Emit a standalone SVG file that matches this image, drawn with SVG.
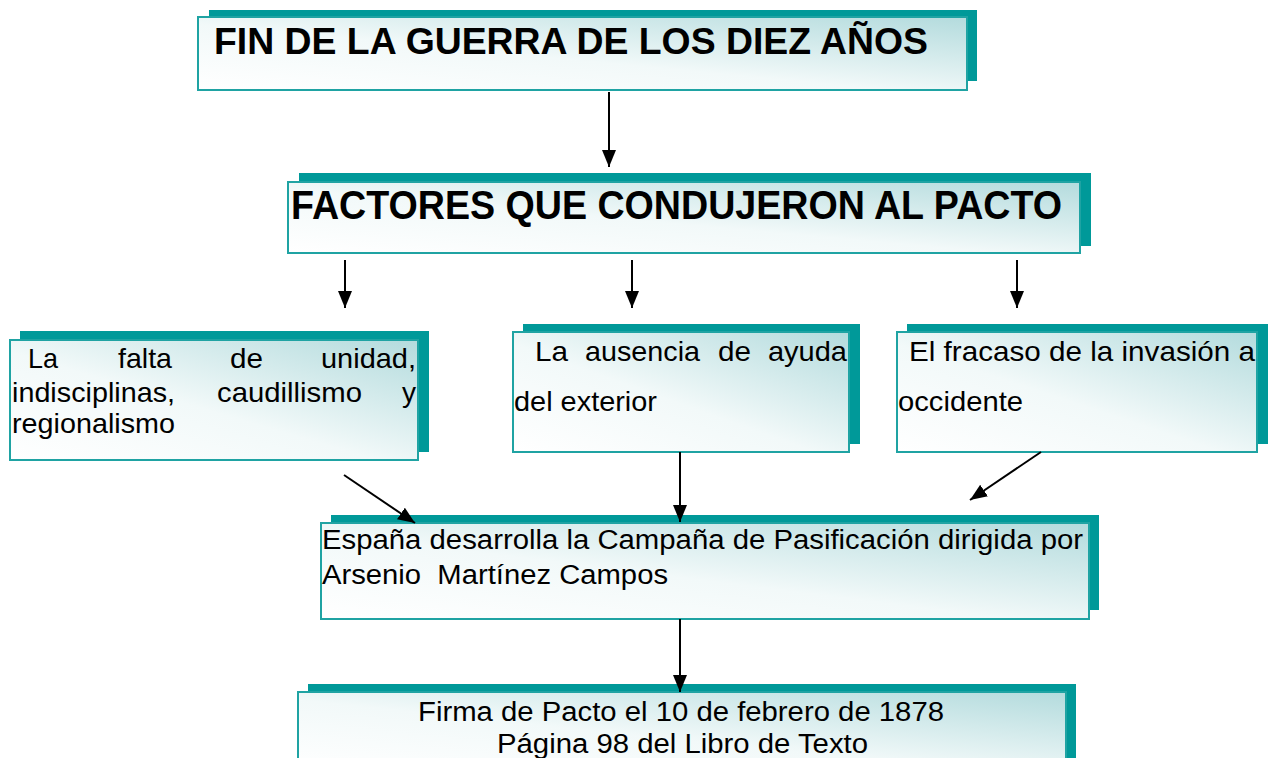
<svg xmlns="http://www.w3.org/2000/svg" width="1272" height="758" viewBox="0 0 1272 758">
<defs>
<linearGradient id="fill" x1="0" y1="1" x2="1" y2="0">
<stop offset="0" stop-color="#ffffff"/>
<stop offset="0.45" stop-color="#f2f9f9"/>
<stop offset="1" stop-color="#b3dbdd"/>
</linearGradient>
<marker id="arr" markerUnits="userSpaceOnUse" markerWidth="18" markerHeight="15" refX="17" refY="7" orient="auto">
<path d="M0,0 L17,7 L0,14 z" fill="#000"/>
</marker>
</defs>
<style>
.sh{fill:#009999}
.fr{fill:url(#fill);stroke:#1fa3a3;stroke-width:2}
.t{font-family:"Liberation Sans",Arial,sans-serif;fill:#000}
.b{font-weight:bold}
.c{stroke:#000;stroke-width:2;fill:none;marker-end:url(#arr)}
</style>
<rect width="1272" height="758" fill="#fff"/>
<g id="n1">
<rect class="sh" x="209" y="10" width="768" height="71"/>
<rect class="fr" x="198" y="17" width="769" height="73"/>
<text class="t b" x="214" y="54" font-size="37" textLength="714" lengthAdjust="spacingAndGlyphs">FIN DE LA GUERRA DE LOS DIEZ AÑOS</text>
</g>
<g id="n2">
<rect class="sh" x="299" y="173" width="792" height="73"/>
<rect class="fr" x="288" y="182" width="792" height="71"/>
<text class="t b" x="291" y="219" font-size="40" textLength="771" lengthAdjust="spacingAndGlyphs">FACTORES QUE CONDUJERON AL PACTO</text>
</g>
<g id="n3">
<rect class="sh" x="20" y="331" width="409" height="121"/>
<rect class="fr" x="10" y="340" width="408" height="120"/>
<g class="t" font-size="28">
<text x="28" y="368" textLength="30" lengthAdjust="spacingAndGlyphs">La</text>
<text x="118" y="368" textLength="54" lengthAdjust="spacingAndGlyphs">falta</text>
<text x="230" y="368" textLength="33" lengthAdjust="spacingAndGlyphs">de</text>
<text x="321" y="368" textLength="95" lengthAdjust="spacingAndGlyphs">unidad,</text>
<text x="12" y="402" textLength="163" lengthAdjust="spacingAndGlyphs">indisciplinas,</text>
<text x="217" y="402" textLength="145" lengthAdjust="spacingAndGlyphs">caudillismo</text>
<text x="402" y="402" textLength="14" lengthAdjust="spacingAndGlyphs">y</text>
<text x="12" y="433" textLength="163" lengthAdjust="spacingAndGlyphs">regionalismo</text>
</g>
</g>
<g id="n4">
<rect class="sh" x="523" y="324" width="337" height="120"/>
<rect class="fr" x="513" y="332" width="336" height="120"/>
<g class="t" font-size="28">
<text x="535" y="361" textLength="33" lengthAdjust="spacingAndGlyphs">La</text>
<text x="585" y="361" textLength="115" lengthAdjust="spacingAndGlyphs">ausencia</text>
<text x="718" y="361" textLength="33" lengthAdjust="spacingAndGlyphs">de</text>
<text x="768" y="361" textLength="79" lengthAdjust="spacingAndGlyphs">ayuda</text>
<text x="514" y="411" textLength="143" lengthAdjust="spacingAndGlyphs">del exterior</text>
</g>
</g>
<g id="n5">
<rect class="sh" x="907" y="324" width="361" height="120"/>
<rect class="fr" x="897" y="332" width="360" height="120"/>
<g class="t" font-size="28">
<text x="909" y="361" textLength="346" lengthAdjust="spacingAndGlyphs">El fracaso de la invasión a</text>
<text x="898" y="411" textLength="125" lengthAdjust="spacingAndGlyphs">occidente</text>
</g>
</g>
<g id="n6">
<rect class="sh" x="331" y="515" width="768" height="95"/>
<rect class="fr" x="321" y="523" width="768" height="96"/>
<g class="t" font-size="27">
<text x="322" y="549" textLength="761" lengthAdjust="spacingAndGlyphs">España desarrolla la Campaña de Pasificación dirigida por</text>
<text x="322" y="584" textLength="346" lengthAdjust="spacingAndGlyphs" xml:space="preserve">Arsenio  Martínez Campos</text>
</g>
</g>
<g id="n7">
<rect class="sh" x="308" y="684" width="768" height="80"/>
<rect class="fr" x="298" y="692" width="768" height="80"/>
<g class="t" font-size="27">
<text x="418" y="721" textLength="526" lengthAdjust="spacingAndGlyphs">Firma de Pacto el 10 de febrero de 1878</text>
<text x="497" y="753" textLength="371" lengthAdjust="spacingAndGlyphs">Página 98 del Libro de Texto</text>
</g>
</g>
<g id="connectors">
<line class="c" x1="609" y1="92" x2="609" y2="167"/>
<line class="c" x1="345" y1="260" x2="345" y2="308"/>
<line class="c" x1="632" y1="260" x2="632" y2="308"/>
<line class="c" x1="1017" y1="260" x2="1017" y2="308"/>
<line class="c" x1="344" y1="475" x2="415" y2="523"/>
<line class="c" x1="680" y1="452" x2="680" y2="522"/>
<line class="c" x1="1041" y1="452" x2="970" y2="500"/>
<line class="c" x1="680" y1="619" x2="680" y2="692"/>
</g>
</svg>
